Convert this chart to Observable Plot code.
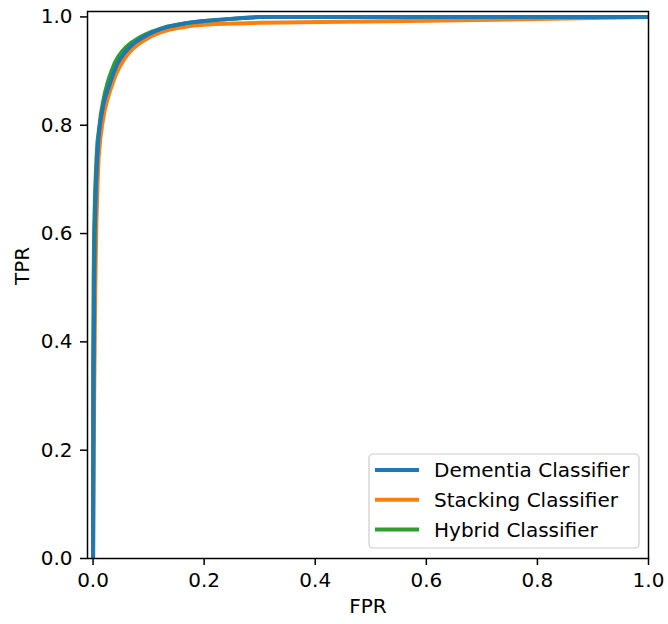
<!DOCTYPE html>
<html>
<head>
<meta charset="utf-8">
<script src="https://cdn.jsdelivr.net/npm/d3@7"></script>
<script src="https://cdn.jsdelivr.net/npm/@observablehq/plot@0.6"></script>
<style>
  html, body { margin: 0; padding: 0; background: white; }
  #chart svg { display: block; }
</style>
</head>
<body>
<div id="chart"></div>
<script>
// ---- data ----
const seriesNames = ["Dementia Classifier", "Stacking Classifier", "Hybrid Classifier"];
const seriesColors = ["#1f77b4", "#ff7f0e", "#2ca02c"];

const dementiaFPR = [0, 0.001, 0.002, 0.003, 0.005, 0.007, 0.009, 0.011, 0.014, 0.018, 0.022, 0.027, 0.032, 0.037, 0.043, 0.050, 0.057, 0.064, 0.072, 0.080, 0.088, 0.098, 0.108, 0.120, 0.135, 0.150, 0.170, 0.195, 0.230, 0.270, 0.300, 1.0];
const dementiaTPR = [0, 0.30, 0.50, 0.60, 0.68, 0.73, 0.765, 0.79, 0.812, 0.835, 0.852, 0.867, 0.882, 0.897, 0.912, 0.924, 0.934, 0.942, 0.950, 0.956, 0.961, 0.967, 0.972, 0.977, 0.982, 0.985, 0.989, 0.992, 0.995, 0.998, 1.0, 1.0];

const stackingFPR = [0, 0.002, 0.004, 0.006, 0.008, 0.010, 0.013, 0.017, 0.021, 0.026, 0.031, 0.036, 0.042, 0.049, 0.056, 0.064, 0.072, 0.082, 0.094, 0.106, 0.120, 0.136, 0.155, 0.180, 0.220, 0.300, 0.450, 0.600, 0.800, 0.950, 1.0];
const stackingTPR = [0, 0.30, 0.50, 0.62, 0.69, 0.74, 0.775, 0.805, 0.828, 0.848, 0.865, 0.880, 0.896, 0.910, 0.922, 0.933, 0.942, 0.950, 0.958, 0.965, 0.971, 0.976, 0.980, 0.984, 0.987, 0.989, 0.991, 0.993, 0.996, 0.999, 1.0];

const hybridFPR = [0, 0, 0.001, 0.002, 0.004, 0.006, 0.008, 0.011, 0.014, 0.018, 0.021, 0.025, 0.029, 0.034, 0.039, 0.045, 0.052, 0.059, 0.067, 0.076, 0.085, 0.095, 0.106, 0.118, 0.133, 0.150, 0.170, 0.195, 0.230, 0.270, 0.300, 1.0];
const hybridTPR = [0, 0.35, 0.51, 0.61, 0.685, 0.735, 0.77, 0.795, 0.82, 0.843, 0.858, 0.874, 0.888, 0.902, 0.915, 0.926, 0.936, 0.944, 0.951, 0.957, 0.963, 0.968, 0.973, 0.977, 0.982, 0.985, 0.989, 0.992, 0.995, 0.998, 1.0, 1.0];

const xTicks = [0, 0.2, 0.4, 0.6, 0.8, 1.0];
const yTicks = [0, 0.2, 0.4, 0.6, 0.8, 1.0];
const xLabel = "FPR";
const yLabel = "TPR";

// ---- build tables ----
const toRows = (fpr, tpr, name) => fpr.map((f, i) => ({fpr: f, tpr: tpr[i], name}));
const dementia = toRows(dementiaFPR, dementiaTPR, seriesNames[0]);
const stacking = toRows(stackingFPR, stackingTPR, seriesNames[1]);
const hybrid = toRows(hybridFPR, hybridTPR, seriesNames[2]);

const fmt = d3.format(".1f");
const font = "DejaVu Sans";
const fs = 20;

const plot = Plot.plot({
  width: 668,
  height: 624,
  marginLeft: 87,
  marginRight: 20,
  marginTop: 11,
  marginBottom: 66,
  style: {fontFamily: font, fontSize: fs + "px", color: "black", background: "white", overflow: "visible"},
  x: {domain: [-0.01, 1.0]},
  y: {domain: [0, 1.01]},
  marks: [
    Plot.axisX({ticks: xTicks, tickFormat: fmt, tickSize: 7, tickPadding: 7, strokeWidth: 1.5, label: null, fontSize: fs}),
    Plot.axisY({ticks: yTicks, tickFormat: fmt, tickSize: 7, tickPadding: 8, strokeWidth: 1.5, label: null, fontSize: fs}),
    Plot.line(stacking, {x: "fpr", y: "tpr", stroke: seriesColors[1], strokeWidth: 4, clip: true}),
    Plot.line(hybrid, {x: "fpr", y: "tpr", stroke: seriesColors[2], strokeWidth: 4, clip: true}),
    Plot.line(dementia, {x: "fpr", y: "tpr", stroke: seriesColors[0], strokeWidth: 4, clip: true}),
    Plot.frame({stroke: "black", strokeWidth: 1.5}),
    Plot.text([xLabel], {frameAnchor: "bottom", text: d => d, dy: 54, fontSize: fs, fill: "black"}),
    Plot.text([yLabel], {frameAnchor: "left", text: d => d, rotate: -90, dx: -65, fontSize: fs, fill: "black"})
  ]
});

// ---- legend (matplotlib style, lower right inside axes) ----
const svg = d3.select(plot);
const lg = svg.append("g").attr("font-family", font).attr("font-size", fs).attr("text-anchor", "start");
lg.append("rect")
  .attr("x", 369).attr("y", 454).attr("width", 270).attr("height", 94)
  .attr("rx", 4).attr("ry", 4)
  .attr("fill", "white").attr("fill-opacity", 0.8)
  .attr("stroke", "#cccccc").attr("stroke-width", 1.2);
seriesNames.forEach((name, i) => {
  const y = 470 + i * 29.7;
  lg.append("line")
    .attr("x1", 375).attr("x2", 419).attr("y1", y).attr("y2", y)
    .attr("stroke", seriesColors[i]).attr("stroke-width", 4);
  lg.append("text")
    .attr("x", 434).attr("y", y).attr("dy", "0.36em")
    .attr("text-anchor", "start")
    .attr("fill", "black")
    .text(name);
});

document.getElementById("chart").appendChild(plot);
</script>
</body>
</html>
